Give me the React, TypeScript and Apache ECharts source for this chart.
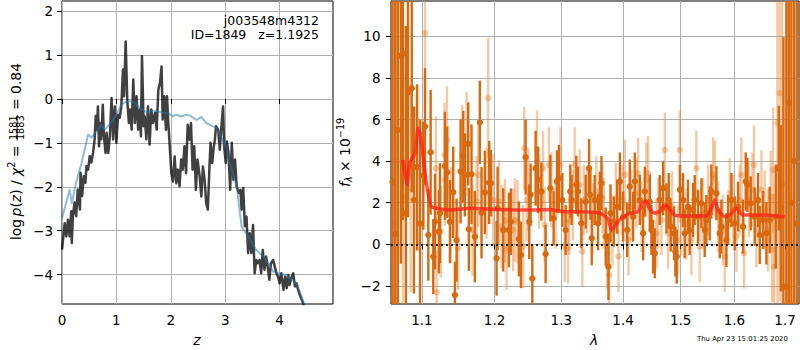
import React, { useEffect, useRef } from 'react';
import * as echarts from 'echarts';

// ---------- axes ----------
const Z_TICKS = [0, 1, 2, 3, 4];
const LOGP_TICKS = [-4, -3, -2, -1, 0, 1, 2];
const LAM_TICKS = [1.1, 1.2, 1.3, 1.4, 1.5, 1.6, 1.7];
const FLUX_TICKS = [-2, 0, 2, 4, 6, 8, 10];
const Z_RANGE = [0, 4.98];
const LOGP_RANGE = [-4.67, 2.23];
const LAM_RANGE = [1.0599, 1.7287];
const FLUX_RANGE = [-2.87, 11.7];

// ---------- left panel: log p(z) ----------
const PZ_CHI2: [number, number][] = [
  [0, -3.43], [0.05, -2.83], [0.08, -3.13], [0.11, -2.75], [0.14, -3.13], [0.17, -2.56], [0.18, -3.28], [0.2, -2.67],
  [0.23, -2.36], [0.26, -2.67], [0.29, -2.06], [0.33, -2.52], [0.34, -1.68], [0.37, -2.21], [0.4, -1.76], [0.43, -1.91],
  [0.45, -1.53], [0.48, -1.61], [0.51, -1.3], [0.54, -1.45], [0.57, -1.23], [0.6, -0.92], [0.62, -0.39], [0.64, -0.7],
  [0.66, -0.17], [0.68, -1.08], [0.71, -0.55], [0.72, -0.92], [0.75, -0.13], [0.77, -0.85], [0.8, -1.23], [0.82, -0.77],
  [0.85, -1.23], [0.88, -0.85], [0.91, 0.02], [0.94, -0.92], [0.97, -0.17], [1.0, -1.0], [1.03, -0.36], [1.06, -0.43],
  [1.09, -0.17], [1.12, 0.67], [1.14, 0.06], [1.17, 1.31], [1.2, -0.05], [1.23, -0.55], [1.25, -0.24], [1.28, -0.7],
  [1.31, 0.44], [1.34, -0.55], [1.37, 0.06], [1.4, -0.7], [1.43, -0.24], [1.45, -0.85], [1.47, 0.97], [1.5, -0.62],
  [1.52, -0.4], [1.55, -0.92], [1.58, -0.17], [1.61, -1.04], [1.64, -0.24], [1.67, -0.55], [1.71, -0.32], [1.74, -0.7],
  [1.77, 0.21], [1.8, 0.36], [1.83, 0.74], [1.85, -0.47], [1.88, 0.06], [1.91, -0.7], [1.93, 0.06], [1.95, -0.47],
  [1.98, -1.08], [2.01, -1.69], [2.04, -1.88], [2.07, -1.31], [2.1, -1.92], [2.13, -1.61], [2.16, -1.99], [2.19, -1.38],
  [2.22, -1.61], [2.25, -1.08], [2.28, -1.69], [2.31, -0.59], [2.34, -0.93], [2.37, -0.55], [2.4, -1.61], [2.43, -1.08],
  [2.46, -2.07], [2.49, -1.38], [2.53, -1.76], [2.56, -2.22], [2.59, -1.54], [2.62, -1.84], [2.65, -2.37], [2.68, -2.52],
  [2.71, -1.54], [2.73, -1.0], [2.76, -1.46], [2.79, -1.08], [2.81, -0.93], [2.83, -0.62], [2.87, -0.7], [2.9, -1.16],
  [2.93, -0.62], [2.96, -0.17], [2.98, -1.08], [3.01, -1.46], [3.03, -0.97], [3.06, -1.23], [3.09, -2.07], [3.12, -1.0],
  [3.15, -1.84], [3.18, -1.38], [3.21, -1.99], [3.25, -2.14], [3.28, -2.07], [3.3, -2.52], [3.33, -2.03], [3.36, -2.9],
  [3.39, -2.68], [3.42, -3.51], [3.45, -3.06], [3.48, -3.51], [3.51, -2.87], [3.54, -3.97], [3.57, -3.67], [3.6, -3.74],
  [3.63, -3.67], [3.66, -3.97], [3.69, -3.44], [3.72, -3.89], [3.75, -3.59], [3.78, -3.82], [3.81, -4.12], [3.84, -3.74],
  [3.88, -3.67], [3.91, -3.82], [3.94, -3.97], [3.97, -4.05], [4.0, -4.2], [4.03, -3.97], [4.07, -4.35], [4.1, -4.05],
  [4.13, -4.31], [4.16, -4.01], [4.18, -4.24], [4.22, -4.05], [4.25, -3.97], [4.28, -4.27], [4.31, -4.2], [4.34, -4.35],
  [4.37, -4.46], [4.43, -4.65], [4.47, -4.85],
];

const PZ_PRIOR: [number, number][] = [
  [0, -2.72], [0.14, -2.07], [0.18, -2.37], [0.26, -1.9], [0.36, -1.46], [0.48, -0.81], [0.54, -0.88], [0.66, -0.7],
  [0.72, -0.59], [0.79, -0.7], [0.84, -0.63], [0.92, -0.5], [1.0, -0.36], [1.09, -0.13], [1.17, -0.07], [1.24, -0.05],
  [1.34, -0.09], [1.46, -0.24], [1.56, -0.3], [1.64, -0.28], [1.72, -0.27], [1.82, -0.31], [1.95, -0.32], [2.04, -0.4],
  [2.1, -0.36], [2.19, -0.4], [2.29, -0.36], [2.35, -0.38], [2.47, -0.48], [2.56, -0.41], [2.65, -0.55], [2.84, -0.66],
  [2.93, -0.89], [3.02, -1.1], [3.08, -1.46], [3.21, -1.99], [3.3, -2.91], [3.42, -3.13], [3.57, -3.44], [3.7, -3.59],
  [3.8, -3.75], [3.88, -3.93], [4.0, -3.98], [4.12, -4.01], [4.31, -4.2], [4.46, -4.7],
];

// ---------- right panel: spectrum ----------
const MODEL: [number, number][] = [
  [1.0752, 4.06], [1.0804, 2.86], [1.0839, 3.9], [1.0882, 4.2], [1.0913, 4.38], [1.0947, 5.58], [1.0979, 5.3],
  [1.1013, 4.3], [1.1066, 2.77], [1.1125, 1.81], [1.1192, 1.73], [1.1372, 1.65], [1.1648, 1.73], [1.2026, 1.68],
  [1.2516, 1.65], [1.282, 1.68], [1.3026, 1.57], [1.3287, 1.57], [1.3609, 1.5], [1.3746, 1.24], [1.3805, 0.69],
  [1.3939, 1.17], [1.4107, 1.49], [1.4252, 1.57], [1.4338, 1.97], [1.4385, 2.1], [1.4449, 1.73], [1.4536, 1.5],
  [1.4624, 1.57], [1.4716, 1.89], [1.4774, 1.81], [1.4889, 1.41], [1.504, 1.36], [1.547, 1.36], [1.5563, 1.73],
  [1.5625, 2.13], [1.5687, 1.65], [1.5815, 1.33], [1.5909, 1.41], [1.6036, 1.73], [1.6161, 1.41], [1.6615, 1.41],
  [1.6993, 1.33],
];

// [lambda, flux, error]
const SPEC_A: [number, number, number][] = [
  [1.0618, 3.0, 15], [1.0652, 0.5, 14], [1.0686, 5.5, 12], [1.0725, 9.07, 10], [1.0752, 9.17, 8], [1.079, 1.5, 9],
  [1.0816, 7.3, 6], [1.0866, 7.5, 5], [1.0894, 2.13, 4.5], [1.0936, 3.7, 4], [1.0975, 1.0, 5], [1.1018, 3.3, 2.6],
  [1.104, 5.67, 2.8], [1.1084, 0.45, 2.2], [1.1115, 4.43, 3.0], [1.115, -0.59, 1.8], [1.1173, 1.09, 2.3], [1.1226, 0.6, 2.0],
  [1.124, 1.5, 2.4], [1.1307, 3.77, 2.6], [1.1339, 3.47, 2.2], [1.1375, 1.09, 2.0], [1.142, 2.5, 2.2], [1.1443, -2.44, 1.6],
  [1.1466, 0.2, 2.0], [1.1521, 3.5, 2.5], [1.1558, 4.22, 2.2], [1.158, 3.34, 2.0], [1.1627, 4.83, 2.0], [1.1636, 0.72, 2.0],
  [1.1673, 3.37, 2.4], [1.172, 0.37, 2.2], [1.179, 5.87, 2.0], [1.1814, 1.52, 2.2], [1.1861, 2.5, 2.0], [1.1923, 2.97, 2.0],
  [1.1947, 2.94, 1.6], [1.2029, -0.67, 1.8], [1.2044, 1.73, 2.0], [1.2126, 0.69, 2.0], [1.2208, 0.69, 1.8], [1.2237, 1.09, 1.6],
  [1.2355, 0.26, 1.8], [1.2385, -0.51, 1.6], [1.2455, 4.19, 1.8], [1.251, 1.09, 1.8], [1.253, 2.38, 1.5], [1.2556, -1.64, 1.6],
  [1.2606, 3.66, 1.8], [1.2642, 3.1, 1.6], [1.2693, 2.54, 1.4], [1.2758, -0.47, 1.4], [1.283, 2.7, 1.6], [1.2881, 1.25, 1.3],
  [1.2933, 3.02, 1.5], [1.2964, 3.18, 1.6], [1.3016, 2.13, 1.3], [1.3068, 0.69, 1.2], [1.3141, 2.54, 1.3], [1.3162, 2.13, 1.2],
  [1.3236, 2.86, 1.4], [1.3263, 2.54, 1.2], [1.3316, 1.01, 1.2], [1.3386, 2.05, 1.3], [1.344, 3.66, 1.4], [1.3461, 2.38, 1.2],
  [1.3483, 0.29, 1.3], [1.3531, 2.13, 1.2], [1.3586, 1.01, 1.3], [1.3614, 2.3, 1.2], [1.3641, 2.94, 1.3], [1.3712, 0.37, 1.4],
  [1.3756, -1.08, 1.6], [1.379, 1.49, 1.4], [1.3845, 1.09, 1.2], [1.3901, 1.81, 1.3], [1.3946, 3.02, 1.4], [1.4001, 1.33, 1.2],
  [1.4069, 0.69, 1.3], [1.4112, 2.78, 1.3], [1.4169, 1.33, 1.2], [1.4197, 3.02, 1.4], [1.4283, 2.13, 1.2], [1.434, 0.53, 1.3],
  [1.4369, 2.54, 1.2], [1.4455, 2.05, 1.3], [1.4484, 0.69, 1.2], [1.4513, -0.11, 1.3], [1.4542, -0.43, 1.2], [1.4629, 2.13, 1.2],
  [1.4688, 2.7, 1.3], [1.4747, 1.73, 1.2], [1.4787, 2.13, 1.3], [1.4822, 0.85, 1.2], [1.4882, 0.53, 1.3], [1.4905, -0.35, 1.2],
  [1.4929, -0.59, 1.3], [1.4988, 2.62, 1.2], [1.5043, 2.13, 1.3], [1.5073, 0.53, 1.2], [1.5133, 1.81, 1.3], [1.5163, 0.69, 1.2],
  [1.5224, 1.65, 1.3], [1.5255, 2.13, 1.2], [1.5316, 1.33, 1.3], [1.5378, 1.97, 1.2], [1.5439, 0.69, 1.3], [1.547, 1.17, 1.2],
  [1.5532, 1.49, 1.3], [1.5563, 2.54, 1.3], [1.5657, 2.46, 1.3], [1.572, 0.53, 1.2], [1.5751, 0.85, 1.3], [1.5846, 0.21, 1.3],
  [1.5878, 1.17, 1.2], [1.5941, 2.13, 1.3], [1.6005, 1.01, 1.3], [1.6069, 1.81, 1.2], [1.6165, 0.85, 1.3], [1.6217, 3.02, 1.4],
  [1.625, 2.86, 1.3], [1.6315, 1.97, 1.3], [1.6393, 1.33, 1.4], [1.6459, 2.13, 1.3], [1.6492, 0.45, 1.4], [1.6558, 1.17, 1.4],
  [1.6624, 0.53, 1.5], [1.6691, 1.17, 1.6], [1.6812, 1.33, 2.5], [1.6873, 3.66, 3.0], [1.6914, 1.73, 4.0], [1.6968, -2.04, 12],
  [1.703, -2.04, 14], [1.7078, 6.79, 14], [1.713, 2.0, 15], [1.7186, 4.0, 15], [1.7241, 1.0, 15],
];

const SPEC_B: [number, number, number][] = [
  [1.0635, 1.0, 14], [1.067, 4.0, 12], [1.0752, 2.3, 6], [1.0852, 2.7, 5], [1.093, 3.74, 3.5], [1.104, 10.16, 3.8],
  [1.1186, 3.66, 2.5], [1.1195, -2.31, 2.0], [1.1251, 0.6, 2.2], [1.1302, 4.3, 2.5], [1.1335, 5.0, 2.6], [1.1307, 3.1, 2.2],
  [1.1388, 1.41, 2.3], [1.1488, -0.19, 2.0], [1.1544, 4.3, 2.4], [1.1604, 4.83, 2.5], [1.1687, 0.69, 2.2], [1.1744, 2.05, 2.2],
  [1.1767, 3.34, 2.5], [1.1885, 2.46, 2.2], [1.1909, 7.03, 2.9], [1.198, 2.13, 2.2], [1.2063, 2.05, 2.0], [1.2101, 0.85, 2.0],
  [1.215, 1.14, 2.0], [1.2174, -0.19, 2.0], [1.2271, 0.69, 2.0], [1.2296, 1.17, 2.0], [1.2335, 1.09, 2.0], [1.242, -0.11, 2.0],
  [1.2435, 4.62, 2.0], [1.247, 2.13, 2.0], [1.2494, 2.62, 2.0], [1.2626, 4.54, 1.9], [1.2657, 2.54, 1.8], [1.2718, 3.66, 1.8],
  [1.2744, 0.93, 1.8], [1.2809, 3.82, 1.8], [1.2846, 2.62, 1.8], [1.2912, 1.49, 1.7], [1.2985, 3.82, 1.8], [1.3052, -0.11, 1.7],
  [1.3105, -0.19, 1.7], [1.3121, 1.09, 1.6], [1.3183, 1.89, 1.7], [1.321, 3.82, 1.8], [1.329, 2.86, 1.7], [1.3332, -0.35, 1.7],
  [1.3354, 2.13, 1.7], [1.3408, 2.13, 1.6], [1.3504, 1.25, 1.7], [1.3558, 2.54, 1.7], [1.3657, 2.22, 1.7], [1.3679, 1.49, 1.7],
  [1.3734, -0.43, 1.7], [1.3767, -1.48, 1.8], [1.3822, 0.69, 1.7], [1.3878, 2.22, 1.7], [1.3923, -0.59, 1.7], [1.3979, 2.13, 1.7],
  [1.4029, 3.34, 1.7], [1.4091, 0.21, 1.7], [1.414, 1.89, 1.7], [1.4226, 2.46, 1.7], [1.4254, 3.42, 1.7], [1.4312, 1.33, 1.7],
  [1.4398, 3.1, 1.8], [1.4426, 3.42, 1.8], [1.4571, 0.53, 1.7], [1.46, 1.49, 1.7], [1.4659, 1.17, 1.7], [1.4718, 4.54, 1.8],
  [1.4776, 0.53, 1.7], [1.4846, 1.81, 1.7], [1.4953, 0.21, 1.7], [1.4983, 4.54, 1.9], [1.5013, 1.17, 1.7], [1.5103, 0.98, 1.7],
  [1.5194, 0.21, 1.7], [1.5285, 3.66, 1.8], [1.5347, -0.11, 1.7], [1.5408, 1.49, 1.7], [1.5501, 2.13, 1.7], [1.5594, 3.34, 1.8],
  [1.5626, 3.18, 1.8], [1.5688, 1.33, 1.7], [1.5783, 0.69, 1.7], [1.5814, -0.59, 1.7], [1.5909, 2.46, 1.7], [1.5973, 1.65, 1.7],
  [1.6037, 0.37, 1.7], [1.6101, 2.13, 1.7], [1.6133, 3.34, 1.8], [1.6185, -0.43, 1.7], [1.6282, 2.13, 1.8], [1.6348, 2.62, 1.8],
  [1.638, 3.82, 1.9], [1.6426, 0.69, 1.8], [1.6525, 2.62, 1.9], [1.6591, 1.65, 1.9], [1.6657, 0.69, 2.0], [1.6711, 2.3, 2.2],
  [1.6737, -0.27, 2.5], [1.6757, 3.58, 3.0], [1.6778, -1.08, 3.5], [1.6845, 5.83, 9], [1.6893, 7.27, 10], [1.694, 2.86, 9],
];

const TITLE_LINES = ['j003548m4312', 'ID=1849', 'z=1.1925'];
const TIMESTAMP = 'Thu Apr 23 15:01:25 2020';

const FONT = 'DejaVu Sans';
const DARK = '#d9690f';
const LIGHT = 'rgba(228,126,44,0.42)';

const minus = (v: number) => (v < 0 ? '\u2212' + String(Math.abs(v)) : String(v));

export default function App() {
  const ref = useRef<HTMLDivElement>(null);
  useEffect(() => {
    if (!ref.current) return;
    const chart = echarts.init(ref.current, null, { renderer: 'svg' });

    const ctx = document.createElement('canvas').getContext('2d')!;
    const measure = (t: string, s: number, it = false) => {
      ctx.font = `${it ? 'italic ' : ''}${s}px "${FONT}"`;
      return ctx.measureText(t).width;
    };
    const txt = (t: string, x: number, y: number, s: number, it = false, align = 'left') => ({
      type: 'text', x, y, silent: true, z: 100,
      style: { text: t, fontFamily: FONT, fontSize: s, fontStyle: it ? 'italic' : 'normal', fill: '#000', align, verticalAlign: 'middle' },
    });

    type Piece = { t?: string; s?: number; it?: boolean; dy?: number; gap?: number; frac?: [string, string] };
    const build = (pieces: Piece[]) => {
      let x = 0;
      const ch: any[] = [];
      for (const p of pieces) {
        if (p.gap !== undefined) { x += p.gap; continue; }
        if (p.frac) {
          const s = p.s!;
          const w = Math.max(measure(p.frac[0], s), measure(p.frac[1], s)) + 2;
          ch.push(txt(p.frac[0], x + w / 2, -2.5, s, false, 'center'));
          ch.push(txt(p.frac[1], x + w / 2, 4.8, s, false, 'center'));
          ch.push({ type: 'line', silent: true, shape: { x1: x + 0.5, y1: 1.2, x2: x + w - 0.5, y2: 1.2 }, style: { stroke: '#000', lineWidth: 0.8 } });
          x += w;
          continue;
        }
        ch.push(txt(p.t!, x, p.dy || 0, p.s!, !!p.it));
        x += measure(p.t!, p.s!, !!p.it);
      }
      return ch;
    };
    const S = 13.9, s = 9.7;
    const sp = measure(' ', S);
    const leftLabel = build([
      { t: 'log', s: S }, { gap: sp * 0.55 }, { t: 'p', s: S, it: true }, { t: '(', s: S }, { t: 'z', s: S, it: true },
      { t: ')', s: S }, { gap: sp }, { t: '/', s: S }, { gap: sp }, { t: 'χ', s: S, it: true }, { t: '2', s, dy: -4.5 },
      { gap: sp }, { t: '=', s: S }, { gap: sp }, { frac: ['1581', '1883'], s }, { gap: sp }, { t: '=', s: S }, { gap: sp },
      { t: '0.84', s: S },
    ]);
    const rightLabel = build([
      { t: 'f', s: S, it: true }, { t: 'λ', s, it: true, dy: 3.5 }, { gap: sp }, { t: '×', s: S }, { gap: sp },
      { t: '10', s: S }, { t: '\u221219', s, dy: -4.5 },
    ]);

    const errRender = (color: string) => (params: any, api: any) => {
      const x = api.value(0), y = api.value(1), e = api.value(2);
      const cs = params.coordSys;
      const top = api.coord([x, y + e]);
      const bot = api.coord([x, y - e]);
      const c = api.coord([x, y]);
      const y0 = cs.y, y1 = cs.y + cs.height;
      const t = Math.max(top[1], y0), b = Math.min(bot[1], y1);
      const children: any[] = [];
      if (b > t) children.push({ type: 'line', shape: { x1: c[0], y1: t, x2: c[0], y2: b }, style: { stroke: color, lineWidth: 2.4 } });
      if (c[1] >= y0 && c[1] <= y1) children.push({ type: 'circle', shape: { cx: c[0], cy: c[1], r: 3.2 }, style: { fill: color } });
      return { type: 'group', children };
    };

    const axisCommon = (ticks: number[], fmt: (v: number) => string, margin: number) => ({
      axisLine: { show: false },
      axisTick: { show: true, length: 5, customValues: ticks, lineStyle: { color: '#000', width: 1 } },
      axisLabel: { customValues: ticks, formatter: fmt, fontFamily: FONT, fontSize: 13.5, color: '#000', margin },
      splitLine: { show: true, lineStyle: { color: '#b0b0b0', width: 1 } },
    });

    const lnTicks = LAM_TICKS.map(Math.log);

    const option: any = {
      animation: false,
      backgroundColor: '#fff',
      grid: [
        { left: 62, top: 1, width: 271, height: 303, show: true, borderColor: '#000', borderWidth: 1, backgroundColor: 'transparent' },
        { left: 391, top: 1, width: 408, height: 303, show: true, borderColor: '#000', borderWidth: 1, backgroundColor: 'transparent' },
      ],
      xAxis: [
        { type: 'value', gridIndex: 0, min: Z_RANGE[0], max: Z_RANGE[1], ...axisCommon(Z_TICKS, (v) => String(Math.round(v)), 9) },
        {
          type: 'value', gridIndex: 1, min: Math.log(LAM_RANGE[0]), max: Math.log(LAM_RANGE[1]),
          ...axisCommon(lnTicks, (v) => Math.exp(v).toFixed(1), 9),
        },
      ],
      yAxis: [
        { type: 'value', gridIndex: 0, min: LOGP_RANGE[0], max: LOGP_RANGE[1], ...axisCommon(LOGP_TICKS, (v) => minus(Math.round(v)), 9) },
        { type: 'value', gridIndex: 1, min: FLUX_RANGE[0], max: FLUX_RANGE[1], ...axisCommon(FLUX_TICKS, (v) => minus(Math.round(v)), 10.5) },
      ],
      series: [
        {
          type: 'line', xAxisIndex: 0, yAxisIndex: 0, data: PZ_CHI2, showSymbol: false, z: 2,
          lineStyle: { color: 'rgba(0,0,0,0.75)', width: 2.5, join: 'round' },
        },
        {
          type: 'line', xAxisIndex: 0, yAxisIndex: 0, data: PZ_PRIOR, showSymbol: false, z: 3,
          lineStyle: { color: 'rgba(31,119,180,0.5)', width: 2, join: 'round' },
        },
        {
          type: 'custom', xAxisIndex: 1, yAxisIndex: 1, z: 2, silent: true,
          data: SPEC_B.map(([l, f, e]) => [Math.log(l), f, e]),
          encode: { x: 0, y: 1 }, renderItem: errRender(LIGHT),
        },
        {
          type: 'custom', xAxisIndex: 1, yAxisIndex: 1, z: 3, silent: true,
          data: SPEC_A.map(([l, f, e]) => [Math.log(l), f, e]),
          encode: { x: 0, y: 1 }, renderItem: errRender(DARK),
        },
        {
          type: 'line', xAxisIndex: 1, yAxisIndex: 1, z: 4, showSymbol: false, smooth: 0.2,
          data: MODEL.map(([l, f]) => [Math.log(l), f]),
          lineStyle: { color: 'rgba(255,30,20,0.75)', width: 3.5, join: 'round' },
          markLine: {
            silent: true, symbol: 'none', label: { show: false },
            lineStyle: { color: '#222', width: 2, type: [2, 3] },
            data: [{ yAxis: 0 }],
          },
        },
      ],
      graphic: [
        txt(TITLE_LINES[0], 319, 20, 12.5, false, 'right'),
        txt(TITLE_LINES[2], 319, 34.5, 12.5, false, 'right'),
        txt(TITLE_LINES[1], 319 - measure(TITLE_LINES[2], 12.5) - 3 * measure(' ', 12.5), 34.5, 12.5, false, 'right'),
        txt('z', 197, 340, S, true, 'center'),
        txt('λ', 594, 340, S, true, 'center'),
        txt(TIMESTAMP, 697, 339, 6.9, false, 'left'),
        { type: 'group', x: 16, y: 240, rotation: Math.PI / 2, children: leftLabel },
        { type: 'group', x: 345, y: 187, rotation: Math.PI / 2, children: rightLabel },
      ],
    };

    chart.setOption(option);
    return () => chart.dispose();
  }, []);

  return <div ref={ref} style={{ position: 'fixed', left: 0, top: 0, width: 800, height: 350, background: '#fff' }} />;
}
